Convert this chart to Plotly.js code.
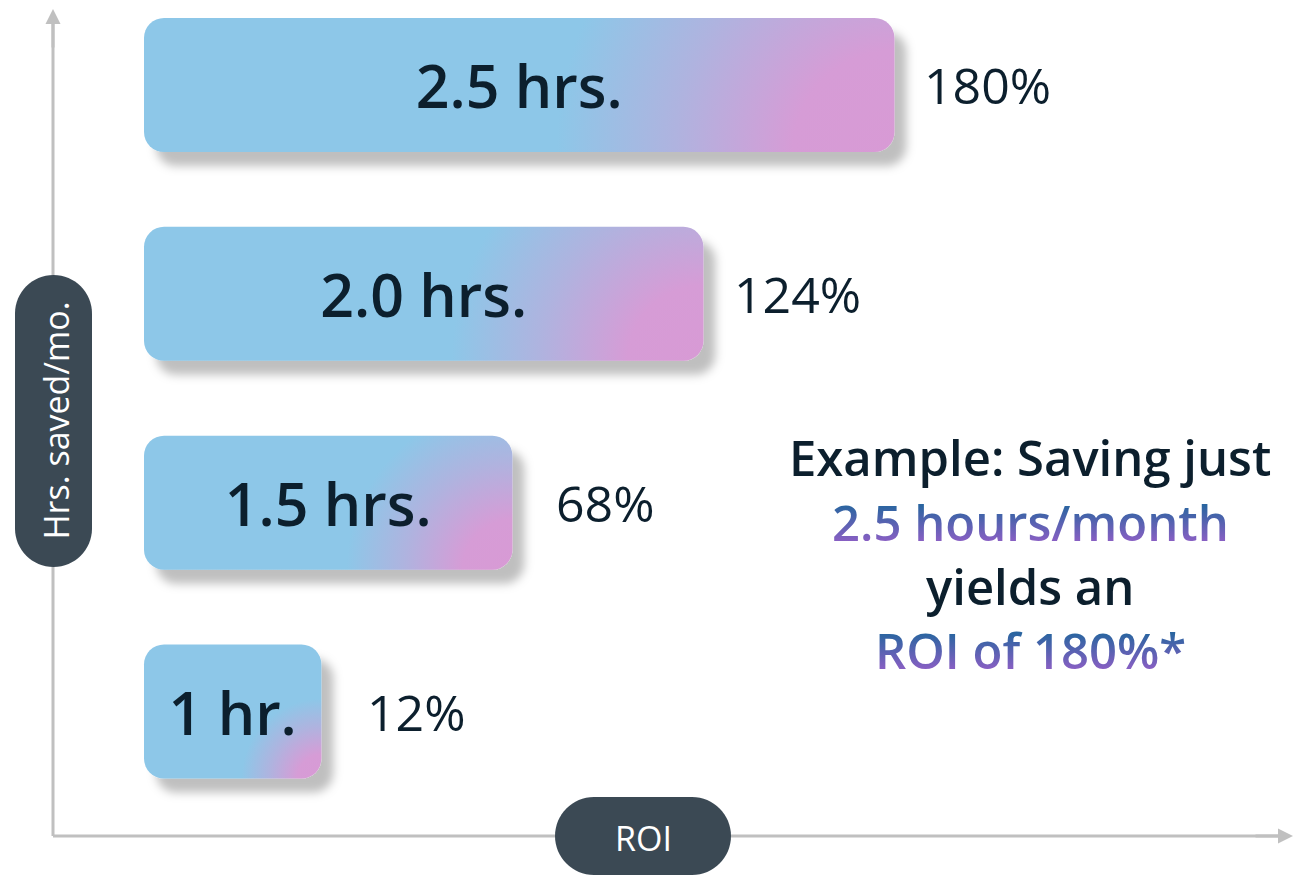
<!DOCTYPE html>
<html>
<head>
<meta charset="utf-8">
<script src="https://cdn.plot.ly/plotly-3.0.1.min.js"></script>
<style>
  html, body { margin: 0; padding: 0; background: #ffffff; }
  #chart { width: 1294px; height: 875px; }
</style>
</head>
<body>
<div id="chart"></div>
<script>
// ---------------- data ----------------
const hourLabels = ['1 hr.', '1.5 hrs.', '2.0 hrs.', '2.5 hrs.'];
const roiValues = [12, 68, 124, 180];
const roiLabels = ['12%', '68%', '124%', '180%'];
const xAxisTitle = 'ROI';
const yAxisTitle = 'Hrs. saved/mo.';
const noteLines = ['Example: Saving just', '2.5 hours/month', 'yields an', 'ROI of 180%*'];

// ---------------- style ----------------
const FONT = '"Open Sans", "Noto Sans", sans-serif';
const DARK = '#0c1f2d';
const AXIS = '#c0c0c0';
const PILL = '#3b4954';
const BAR_BASE = -40;           // ROI value where bars start (left edge of bars)
const LABEL_GAP = [44, 42, 29, 28]; // pixel gap between bar end and its ROI label
const W = 1294, H = 875;
const M = {l: 53, r: 0, t: 9, b: 39};
const plotW = W - M.l - M.r, plotH = H - M.t - M.b;
const px2x = px => (px - M.l) / plotW;
const px2y = py => (H - M.b - py) / plotH;

function pillPath(w, h) {
  const r = Math.min(w, h) / 2, k = 0.5523 * r;
  const hw = w / 2, hh = h / 2;
  if (w >= h) {
    const a = hw - r;
    return `M${-a},${-hh} L${a},${-hh} C${a + k},${-hh} ${hw},${-k} ${hw},0 ` +
           `C${hw},${k} ${a + k},${hh} ${a},${hh} L${-a},${hh} ` +
           `C${-a - k},${hh} ${-hw},${k} ${-hw},0 C${-hw},${-k} ${-a - k},${-hh} ${-a},${-hh} Z`;
  } else {
    const a = hh - r;
    return `M${-hw},${-a} C${-hw},${-a - k} ${-k},${-hh} 0,${-hh} C${k},${-hh} ${hw},${-a - k} ${hw},${-a} ` +
           `L${hw},${a} C${hw},${a + k} ${k},${hh} 0,${hh} C${-k},${hh} ${-hw},${a + k} ${-hw},${a} Z`;
  }
}

const barTrace = {
  type: 'bar',
  orientation: 'h',
  y: hourLabels,
  x: roiValues.map(v => v - BAR_BASE),
  base: BAR_BASE,
  width: 0.642,
  text: hourLabels,
  textposition: 'inside',
  insidetextanchor: 'middle',
  textfont: {family: FONT, size: 59, color: DARK, weight: 600},
  marker: {color: '#8dc7e8', cornerradius: 20, line: {width: 0}},
  hoverinfo: 'skip',
  cliponaxis: false
};

const annotations = [];
roiValues.forEach((v, i) => {
  annotations.push({
    x: v, y: hourLabels[i], xref: 'x', yref: 'y',
    text: roiLabels[i], showarrow: false, xanchor: 'left', yanchor: 'middle',
    xshift: LABEL_GAP[i], font: {family: FONT, size: 50, color: DARK}
  });
});

// axis arrowheads
annotations.push({
  x: 1, y: 0, xref: 'paper', yref: 'paper', ax: -40, ay: 0, axref: 'pixel', ayref: 'pixel',
  showarrow: true, arrowhead: 2, arrowsize: 1, arrowwidth: 3, arrowcolor: AXIS, text: '', standoff: 0
});
annotations.push({
  x: 0, y: 1, xref: 'paper', yref: 'paper', ax: 0, ay: 40,
  showarrow: true, arrowhead: 2, arrowsize: 1, arrowwidth: 3, arrowcolor: AXIS, text: '', standoff: 0
});

// axis titles (pills)
const xPill = {cx: 643, cy: 836, w: 176, h: 78};
const yPill = {cx: 53.5, cy: 421, w: 77, h: 292};
annotations.push({
  x: px2x(xPill.cx), y: px2y(xPill.cy + 2), xref: 'paper', yref: 'paper', showarrow: false,
  text: xAxisTitle, font: {family: FONT, size: 34, color: '#ffffff'}, xanchor: 'center', yanchor: 'middle'
});
annotations.push({
  x: px2x(yPill.cx + 2), y: px2y(yPill.cy), xref: 'paper', yref: 'paper', showarrow: false,
  text: yAxisTitle, textangle: -90, font: {family: FONT, size: 34, color: '#ffffff'},
  xanchor: 'center', yanchor: 'middle'
});

// note text
const noteCx = 1030;
const noteY = [457, 521.5, 586, 650];
const noteColored = [false, true, false, true];
const noteStart = annotations.length;
noteLines.forEach((t, i) => {
  annotations.push({
    x: px2x(noteCx), y: px2y(noteY[i]), xref: 'paper', yref: 'paper', showarrow: false,
    text: t, xanchor: 'center', yanchor: 'middle',
    font: {family: FONT, size: 49, weight: 600, color: noteColored[i] ? '#5f66b4' : DARK}
  });
});

const shapes = [
  {type: 'line', xref: 'paper', yref: 'paper', x0: 0, x1: 0.99, y0: 0, y1: 0,
   line: {color: AXIS, width: 3}, layer: 'below'},
  {type: 'line', xref: 'paper', yref: 'paper', x0: 0, x1: 0, y0: 0, y1: 0.985,
   line: {color: AXIS, width: 3}, layer: 'below'},
  {type: 'path', xref: 'paper', yref: 'paper', xsizemode: 'pixel', ysizemode: 'pixel',
   xanchor: px2x(xPill.cx), yanchor: px2y(xPill.cy), path: pillPath(xPill.w, xPill.h),
   fillcolor: PILL, line: {width: 0}, layer: 'above'},
  {type: 'path', xref: 'paper', yref: 'paper', xsizemode: 'pixel', ysizemode: 'pixel',
   xanchor: px2x(yPill.cx), yanchor: px2y(yPill.cy), path: pillPath(yPill.w, yPill.h),
   fillcolor: PILL, line: {width: 0}, layer: 'above'}
];

// axis ranges from pixel layout
const pxPerRoi = 3.411;
const barLeftPx = 144;
const xMin = BAR_BASE - (barLeftPx - M.l) / pxPerRoi;
const xMax = xMin + plotW / pxPerRoi;
const catPx = 208.83, cat0Px = 711.5;
const yMin = -((H - M.b) - cat0Px) / catPx;
const yMax = yMin + plotH / catPx;

const layout = {
  width: W, height: H,
  margin: M,
  paper_bgcolor: '#ffffff', plot_bgcolor: '#ffffff',
  showlegend: false,
  font: {family: FONT, color: DARK},
  xaxis: {range: [xMin, xMax], showgrid: false, zeroline: false, showticklabels: false,
          showline: false, ticks: '', fixedrange: true},
  yaxis: {type: 'category', range: [yMin, yMax], showgrid: false, zeroline: false,
          showticklabels: false, showline: false, ticks: '', fixedrange: true},
  shapes: shapes,
  annotations: annotations
};

Plotly.newPlot('chart', [barTrace], layout, {displayModeBar: false, staticPlot: true}).then(gd => {
  const NS = 'http://www.w3.org/2000/svg';
  const svg = gd.querySelector('svg.main-svg');
  let defs = svg.querySelector('defs');
  if (!defs) { defs = document.createElementNS(NS, 'defs'); svg.insertBefore(defs, svg.firstChild); }

  const filt = document.createElementNS(NS, 'filter');
  filt.setAttribute('id', 'barShadow');
  filt.setAttribute('x', '-0.2'); filt.setAttribute('y', '-0.3');
  filt.setAttribute('width', '1.5'); filt.setAttribute('height', '1.8');
  const ds = document.createElementNS(NS, 'feDropShadow');
  ds.setAttribute('dx', '12'); ds.setAttribute('dy', '14');
  ds.setAttribute('stdDeviation', '5');
  ds.setAttribute('flood-color', '#000000'); ds.setAttribute('flood-opacity', '0.25');
  filt.appendChild(ds);
  defs.appendChild(filt);

  gd.querySelectorAll('.barlayer .trace .point path').forEach((p, i) => {
    const b = p.getBBox();
    const g = document.createElementNS(NS, 'radialGradient');
    g.setAttribute('id', 'barGrad' + i);
    g.setAttribute('gradientUnits', 'userSpaceOnUse');
    g.setAttribute('cx', b.x + b.width);
    g.setAttribute('cy', b.y + b.height);
    g.setAttribute('r', 0.45 * b.width);
    [[0, '#d89ad5'], [0.3, '#d69cd6'], [0.65, '#afb3df'], [1, '#8dc7e8']].forEach(([o, c]) => {
      const s = document.createElementNS(NS, 'stop');
      s.setAttribute('offset', o); s.setAttribute('stop-color', c);
      g.appendChild(s);
    });
    defs.appendChild(g);
    p.style.fill = 'url(#barGrad' + i + ')';
    p.setAttribute('filter', 'url(#barShadow)');
  });

  const tg = document.createElementNS(NS, 'linearGradient');
  tg.setAttribute('id', 'textGrad');
  tg.setAttribute('x1', '0'); tg.setAttribute('y1', '0.25');
  tg.setAttribute('x2', '0'); tg.setAttribute('y2', '0.8');
  [[0, '#2a65a0'], [1, '#8a5fc4']].forEach(([o, c]) => {
    const s = document.createElementNS(NS, 'stop');
    s.setAttribute('offset', o); s.setAttribute('stop-color', c);
    tg.appendChild(s);
  });
  defs.appendChild(tg);
  noteColored.forEach((c, i) => {
    if (!c) return;
    const t = gd.querySelector('.annotation[data-index="' + (noteStart + i) + '"] text.annotation-text');
    if (t) t.style.fill = 'url(#textGrad)';
  });
});
</script>
</body>
</html>
